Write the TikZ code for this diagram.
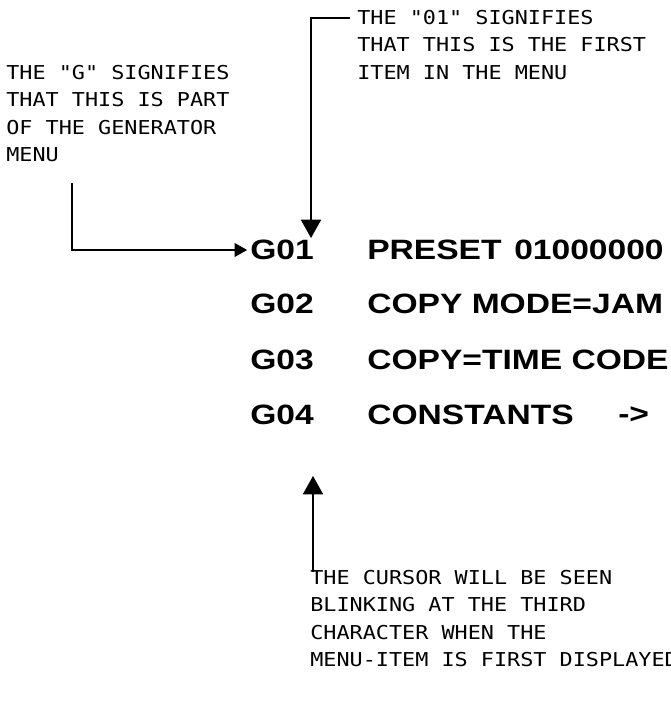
\documentclass[tikz,border=0pt]{standalone}
\usepackage{fontspec}
\usetikzlibrary{arrows.meta,positioning}
\newfontfamily\notefont[FakeStretch=1.14]{DejaVu Sans Mono}
\newfontfamily\menufont[FakeStretch=1.2]{Liberation Sans}

\tikzset{
    note/.style={anchor=north west, inner sep=0pt, align=left,
        font=\notefont\fontsize{13.6pt}{19.5pt}\selectfont},
    code/.style={anchor=west, inner sep=0pt,
        font=\menufont\bfseries\fontsize{19.9pt}{24pt}\selectfont},
    tip/.style={line width=0.9pt, -{Triangle[length=#1, width=1.1*#1]}},
}

\begin{document}
\begin{tikzpicture}[x=0.025cm, y=-0.025cm]

    \useasboundingbox (0,0) rectangle (670,702);

    % notes
    \node [note] (noteG) at (6,65)
        {THE "G" SIGNIFIES\\THAT THIS IS PART\\OF THE GENERATOR\\MENU};
    \node [note] (note01) at (357,10)
        {THE "01" SIGNIFIES\\THAT THIS IS THE FIRST\\ITEM IN THE MENU};
    \node [note] (noteC) at (310,570)
        {THE CURSOR WILL BE SEEN\\BLINKING AT THE THIRD\\CHARACTER WHEN THE\\MENU-ITEM IS FIRST DISPLAYED};

    % menu
    \node [code] (g01) at (250,250) {G01};
    \node [code] (g02) at (250,304) {G02};
    \node [code] (g03) at (250,360) {G03};
    \node [code] (g04) at (250,415) {G04};

    \node [code] (preset) at (367,250) {PRESET};
    \node [code] (value) at (514,250) {01000000};
    \node [code] (mode) at (367,304) {COPY MODE=JAM};
    \node [code] (copy) at (367,360) {COPY=TIME CODE};
    \node [code] (const) at (367,415) {CONSTANTS};
    \node [code] (more) at (618,415) {->};

    % connectors
    \coordinate (gstart) at (72,183);
    \coordinate (top01) at (311,238);
    \coordinate (bot04) at (313,476);
    \coordinate (cstart) at (313,572);

    \draw [tip=9pt] (gstart) |- ([xshift=-2pt]g01.west);
    \draw [tip=13pt] ([xshift=-5pt]note01.west |- 0,18) -| (top01);
    \draw [tip=13pt] (cstart) -- (bot04);

\end{tikzpicture}
\end{document}
